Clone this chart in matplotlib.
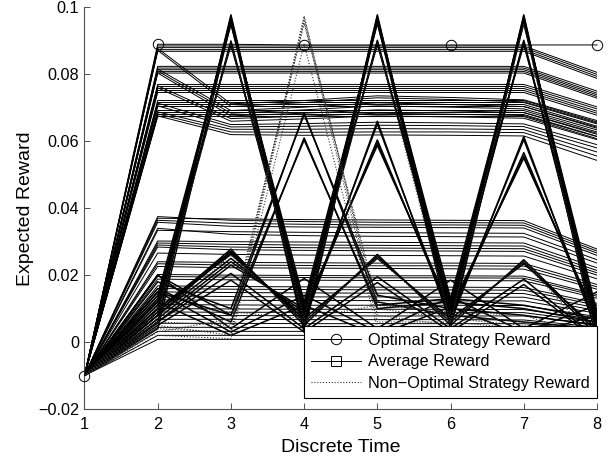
import matplotlib.pyplot as plt
from matplotlib.lines import Line2D

plt.rcParams['font.family'] = ['Liberation Sans', 'DejaVu Sans']

# --- Data: expected reward of each strategy over discrete time ---
time = [1, 2, 3, 4, 5, 6, 7, 8]

optimal_reward = [-0.010, 0.0890, 0.0890, 0.0888, 0.0888, 0.0888, 0.0888, 0.0888]

# strategies that settle on a high reward level after the first step
upper_steady = [
    [-0.010, 0.0885, 0.0885, 0.0885, 0.0885, 0.0885, 0.0885, 0.0806],
    [-0.010, 0.0880, 0.0880, 0.0880, 0.0880, 0.0880, 0.0880, 0.0800],
    [-0.010, 0.0874, 0.0874, 0.0874, 0.0874, 0.0874, 0.0874, 0.0794],
    [-0.010, 0.0869, 0.0869, 0.0869, 0.0869, 0.0869, 0.0869, 0.0788],
    [-0.010, 0.0824, 0.0824, 0.0824, 0.0824, 0.0824, 0.0824, 0.0750],
    [-0.010, 0.0819, 0.0819, 0.0819, 0.0819, 0.0819, 0.0819, 0.0744],
    [-0.010, 0.0814, 0.0814, 0.0814, 0.0814, 0.0814, 0.0814, 0.0739],
    [-0.010, 0.0809, 0.0809, 0.0809, 0.0809, 0.0809, 0.0809, 0.0734],
    [-0.010, 0.0804, 0.0804, 0.0804, 0.0804, 0.0804, 0.0804, 0.0729],
    [-0.010, 0.0770, 0.0770, 0.0770, 0.0770, 0.0770, 0.0770, 0.0703],
    [-0.010, 0.0764, 0.0764, 0.0764, 0.0764, 0.0764, 0.0764, 0.0697],
    [-0.010, 0.0758, 0.0758, 0.0758, 0.0758, 0.0758, 0.0758, 0.0690],
    [-0.010, 0.0752, 0.0752, 0.0752, 0.0752, 0.0752, 0.0752, 0.0684],
    [-0.010, 0.0746, 0.0746, 0.0746, 0.0746, 0.0746, 0.0746, 0.0678],
    [-0.010, 0.0722, 0.0722, 0.0722, 0.0722, 0.0722, 0.0722, 0.0658],
    [-0.010, 0.0716, 0.0716, 0.0716, 0.0716, 0.0716, 0.0716, 0.0652],
    [-0.010, 0.0710, 0.0710, 0.0710, 0.0710, 0.0710, 0.0710, 0.0645],
    [-0.010, 0.0704, 0.0704, 0.0704, 0.0704, 0.0704, 0.0704, 0.0639],
    [-0.010, 0.0692, 0.0692, 0.0692, 0.0692, 0.0692, 0.0692, 0.0628],
    [-0.010, 0.0686, 0.0686, 0.0686, 0.0686, 0.0686, 0.0686, 0.0621],
    [-0.010, 0.0680, 0.0680, 0.0680, 0.0680, 0.0680, 0.0680, 0.0615],
    [-0.010, 0.0674, 0.0674, 0.0674, 0.0674, 0.0674, 0.0674, 0.0608],
]

# high strategies that lose some reward at t=3 and drift afterwards
upper_drifting = [
    [-0.010, 0.0878, 0.0712, 0.0722, 0.0736, 0.0731, 0.0724, 0.0662],
    [-0.010, 0.0872, 0.0704, 0.0716, 0.0730, 0.0725, 0.0718, 0.0655],
    [-0.010, 0.0816, 0.0692, 0.0702, 0.0715, 0.0710, 0.0704, 0.0642],
    [-0.010, 0.0810, 0.0684, 0.0694, 0.0706, 0.0702, 0.0697, 0.0634],
    [-0.010, 0.0804, 0.0676, 0.0684, 0.0694, 0.0691, 0.0686, 0.0624],
    [-0.010, 0.0766, 0.0668, 0.0675, 0.0684, 0.0681, 0.0677, 0.0614],
    [-0.010, 0.0760, 0.0660, 0.0667, 0.0676, 0.0673, 0.0669, 0.0605],
    [-0.010, 0.0714, 0.0650, 0.0653, 0.0657, 0.0655, 0.0652, 0.0590],
    [-0.010, 0.0706, 0.0643, 0.0645, 0.0648, 0.0647, 0.0644, 0.0580],
    [-0.010, 0.0688, 0.0636, 0.0636, 0.0638, 0.0637, 0.0635, 0.0568],
    [-0.010, 0.0682, 0.0628, 0.0627, 0.0628, 0.0628, 0.0626, 0.0556],
    [-0.010, 0.0676, 0.0620, 0.0618, 0.0619, 0.0618, 0.0616, 0.0543],
]

# strategies that stay on a low reward level
lower_steady = [
    [-0.010, 0.0375, 0.0364, 0.0360, 0.0358, 0.0357, 0.0356, 0.0272],
    [-0.010, 0.0370, 0.0368, 0.0366, 0.0365, 0.0364, 0.0363, 0.0278],
    [-0.010, 0.0364, 0.0355, 0.0352, 0.0350, 0.0350, 0.0349, 0.0266],
    [-0.010, 0.0358, 0.0346, 0.0344, 0.0343, 0.0342, 0.0341, 0.0259],
    [-0.010, 0.0340, 0.0322, 0.0318, 0.0316, 0.0315, 0.0314, 0.0236],
    [-0.010, 0.0334, 0.0330, 0.0328, 0.0327, 0.0326, 0.0325, 0.0246],
    [-0.010, 0.0302, 0.0300, 0.0299, 0.0298, 0.0297, 0.0296, 0.0222],
    [-0.010, 0.0296, 0.0292, 0.0290, 0.0289, 0.0288, 0.0287, 0.0214],
    [-0.010, 0.0290, 0.0284, 0.0282, 0.0281, 0.0280, 0.0279, 0.0207],
    [-0.010, 0.0284, 0.0276, 0.0274, 0.0273, 0.0272, 0.0271, 0.0200],
    [-0.010, 0.0266, 0.0262, 0.0260, 0.0259, 0.0258, 0.0257, 0.0189],
    [-0.010, 0.0240, 0.0238, 0.0237, 0.0236, 0.0236, 0.0235, 0.0172],
    [-0.010, 0.0234, 0.0230, 0.0229, 0.0228, 0.0228, 0.0227, 0.0165],
    [-0.010, 0.0226, 0.0222, 0.0221, 0.0220, 0.0219, 0.0218, 0.0158],
    [-0.010, 0.0202, 0.0200, 0.0199, 0.0198, 0.0198, 0.0197, 0.0142],
    [-0.010, 0.0196, 0.0194, 0.0193, 0.0192, 0.0192, 0.0191, 0.0137],
    [-0.010, 0.0188, 0.0186, 0.0185, 0.0184, 0.0184, 0.0183, 0.0131],
    [-0.010, 0.0168, 0.0166, 0.0165, 0.0164, 0.0164, 0.0163, 0.0116],
    [-0.010, 0.0160, 0.0158, 0.0157, 0.0156, 0.0156, 0.0155, 0.0110],
    [-0.010, 0.0150, 0.0148, 0.0147, 0.0146, 0.0146, 0.0145, 0.0102],
    [-0.010, 0.0138, 0.0136, 0.0135, 0.0135, 0.0134, 0.0134, 0.0094],
    [-0.010, 0.0126, 0.0125, 0.0124, 0.0124, 0.0123, 0.0123, 0.0086],
    [-0.010, 0.0112, 0.0111, 0.0110, 0.0110, 0.0110, 0.0109, 0.0076],
    [-0.010, 0.0100, 0.0099, 0.0098, 0.0098, 0.0098, 0.0097, 0.0067],
    [-0.010, 0.0090, 0.0089, 0.0089, 0.0088, 0.0088, 0.0088, 0.0060],
    [-0.010, 0.0080, 0.0079, 0.0079, 0.0078, 0.0078, 0.0078, 0.0053],
    [-0.010, 0.0068, 0.0068, 0.0067, 0.0067, 0.0067, 0.0066, 0.0045],
    [-0.010, 0.0056, 0.0056, 0.0055, 0.0055, 0.0055, 0.0055, 0.0037],
    [-0.010, 0.0044, 0.0044, 0.0043, 0.0043, 0.0043, 0.0043, 0.0028],
    [-0.010, 0.0032, 0.0032, 0.0032, 0.0031, 0.0031, 0.0031, 0.0020],
    [-0.010, 0.0020, 0.0020, 0.0020, 0.0020, 0.0020, 0.0019, 0.0012],
    [-0.010, 0.0008, 0.0008, 0.0008, 0.0008, 0.0008, 0.0008, 0.0004],
]

# strategies that alternate between high and low reward
switching = [
    [-0.010, 0.0060, 0.0978, 0.0040, 0.0978, 0.0050, 0.0978, 0.0010],
    [-0.010, 0.0080, 0.0972, 0.0060, 0.0974, 0.0070, 0.0974, 0.0030],
    [-0.010, 0.0100, 0.0966, 0.0080, 0.0968, 0.0090, 0.0968, 0.0050],
    [-0.010, 0.0120, 0.0960, 0.0100, 0.0962, 0.0110, 0.0962, 0.0070],
    [-0.010, 0.0040, 0.0955, 0.0030, 0.0958, 0.0040, 0.0958, 0.0000],
    [-0.010, 0.0140, 0.0950, 0.0120, 0.0952, 0.0130, 0.0952, 0.0090],
    [-0.010, 0.0090, 0.0900, 0.0070, 0.0902, 0.0080, 0.0902, 0.0040],
    [-0.010, 0.0110, 0.0894, 0.0090, 0.0896, 0.0100, 0.0896, 0.0060],
    [-0.010, 0.0130, 0.0888, 0.0110, 0.0890, 0.0120, 0.0890, 0.0080],
    [-0.010, 0.0200, 0.0080, 0.0685, 0.0120, 0.0080, 0.0060, 0.0040],
    [-0.010, 0.0180, 0.0100, 0.0680, 0.0140, 0.0100, 0.0080, 0.0050],
    [-0.010, 0.0160, 0.0060, 0.0610, 0.0100, 0.0120, 0.0100, 0.0060],
    [-0.010, 0.0150, 0.0080, 0.0604, 0.0110, 0.0130, 0.0110, 0.0070],
    [-0.010, 0.0100, 0.0270, 0.0060, 0.0660, 0.0060, 0.0614, 0.0030],
    [-0.010, 0.0090, 0.0265, 0.0070, 0.0652, 0.0070, 0.0605, 0.0040],
    [-0.010, 0.0080, 0.0250, 0.0080, 0.0604, 0.0080, 0.0566, 0.0050],
    [-0.010, 0.0070, 0.0240, 0.0090, 0.0596, 0.0090, 0.0556, 0.0060],
    [-0.010, 0.0060, 0.0230, 0.0100, 0.0588, 0.0100, 0.0550, 0.0070],
    [-0.010, 0.0090, 0.0278, 0.0050, 0.0262, 0.0050, 0.0246, 0.0030],
    [-0.010, 0.0080, 0.0272, 0.0060, 0.0256, 0.0060, 0.0240, 0.0020],
    [-0.010, 0.0100, 0.0262, 0.0070, 0.0250, 0.0070, 0.0234, 0.0040],
    [-0.010, 0.0060, 0.0205, 0.0040, 0.0195, 0.0040, 0.0188, 0.0010],
    [-0.010, 0.0050, 0.0185, 0.0030, 0.0178, 0.0030, 0.0172, 0.0005],
    [-0.010, 0.0200, 0.0040, 0.0190, 0.0040, 0.0185, 0.0040, 0.0150],
    [-0.010, 0.0150, 0.0030, 0.0140, 0.0030, 0.0135, 0.0030, 0.0110],
    [-0.010, 0.0120, 0.0020, 0.0110, 0.0020, 0.0105, 0.0020, 0.0080],
]

non_optimal = [
    [-0.010, 0.0040, 0.0030, 0.0975, 0.0080, 0.0050, 0.0030, 0.0000],
    [-0.010, 0.0060, 0.0050, 0.0968, 0.0100, 0.0070, 0.0050, 0.0010],
    [-0.010, 0.0050, 0.0020, 0.0960, 0.0060, 0.0060, 0.0040, 0.0005],
    [-0.010, 0.0030, 0.0070, 0.0952, 0.0120, 0.0080, 0.0060, 0.0020],
    [-0.010, 0.0020, 0.0010, 0.0890, 0.0040, 0.0040, 0.0020, 0.0000],
    [-0.010, 0.0110, 0.0090, 0.0070, 0.0110, 0.0090, 0.0080, 0.0010],
    [-0.010, 0.0070, 0.0260, 0.0060, 0.0250, 0.0060, 0.0240, 0.0000],
    [-0.010, 0.0090, 0.0895, 0.0070, 0.0895, 0.0060, 0.0950, 0.0010],
]

y_ticks = [-0.02, 0, 0.02, 0.04, 0.06, 0.08, 0.1]
y_tick_labels = ['\u22120.02', '0', '0.02', '0.04', '0.06', '0.08', '0.1']

# --- Plotting ---
fig = plt.figure(figsize=(6.14, 4.59), dpi=100)
ax = fig.add_axes([0.1376, 0.109, 0.8347, 0.8747])

for row in upper_steady + upper_drifting + lower_steady:
    ax.plot(time, row, '-', color='black', lw=0.7)
for row in switching:
    ax.plot(time, row, '-', color='black', lw=1.1)
for row in non_optimal:
    ax.plot(time, row, color='#333333', lw=0.8, linestyle=(0, (1, 1.6)))

ax.plot(time, optimal_reward, '-', color='black', lw=0.7, marker='o',
        markersize=7.5, markerfacecolor='none', markeredgewidth=0.7,
        markevery=[0, 1, 3, 5, 7], zorder=5, clip_on=False)

ax.set_xlim(1, 8)
ax.set_ylim(-0.02, 0.1)
ax.set_xticks(time)
ax.set_yticks(y_ticks)
ax.set_yticklabels(y_tick_labels)

for side in ['top', 'right']:
    ax.spines[side].set_visible(False)
for side in ['left', 'bottom']:
    ax.spines[side].set_color('#505050')
    ax.spines[side].set_linewidth(0.8)
ax.tick_params(direction='in', length=4, width=0.7, color='#505050',
               labelsize=11.7)
ax.tick_params(axis='x', pad=6)
ax.tick_params(axis='y', pad=4)

ax.set_xlabel('Discrete Time', fontsize=14, labelpad=5)
ax.set_ylabel('Expected Reward', fontsize=14, labelpad=3)

handles = [
    Line2D([], [], color='black', lw=0.7, marker='o', markersize=7.5,
           markerfacecolor='none', markeredgewidth=0.7),
    Line2D([], [], color='black', lw=0.7, marker='s', markersize=6.5,
           markerfacecolor='none', markeredgewidth=0.7),
    Line2D([], [], color='#333333', lw=0.8, linestyle=(0, (1, 1.6))),
]
labels = ['Optimal Strategy Reward', 'Average Reward', 'Non\u2212Optimal Strategy Reward']
leg = ax.legend(handles, labels, loc='lower right', bbox_to_anchor=(1.0, 0.027),
                borderaxespad=0, fontsize=11.7, fancybox=False, framealpha=1,
                edgecolor='black', handlelength=3.1, handletextpad=0.4,
                borderpad=0.45, labelspacing=0.4)
leg.get_frame().set_linewidth(0.8)
leg.set_zorder(10)

fig.savefig('out.png', dpi=100)
